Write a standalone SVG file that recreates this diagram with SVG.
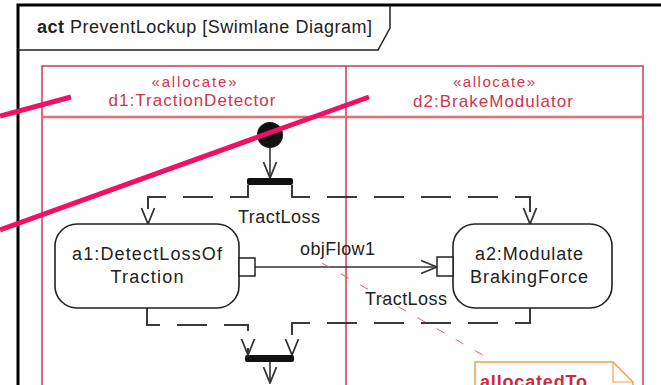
<svg xmlns="http://www.w3.org/2000/svg" width="661" height="385" viewBox="0 0 661 385">
<defs>
<style>
text{font-family:"Liberation Sans",Arial,sans-serif;font-size:18px;fill:#222}
.lane{font-size:17px;fill:#d0344c}
.st{font-size:15px;fill:#d0344c}
.node{fill:#fff;stroke:#222;stroke-width:1.6}
.pin{fill:#fff;stroke:#222;stroke-width:1.5}
.ctrl{fill:none;stroke:#3a3a3a;stroke-width:2;stroke-dasharray:30 17}
.flow{fill:none;stroke:#333;stroke-width:1.6}
.bar{fill:#111}
.callout{stroke:#ee1166;stroke-width:5;fill:none}
</style>
<marker id="arr" viewBox="0 0 18 16" refX="17" refY="8" markerWidth="18" markerHeight="16" markerUnits="userSpaceOnUse" orient="auto">
<path d="M1,1.5 L17,8 L1,14.5" fill="none" stroke="#333" stroke-width="1.8"/>
</marker>
</defs>
<rect width="661" height="385" fill="#fff"/>
<g id="frame">
<path d="M18,385 V5 H661" fill="none" stroke="#000" stroke-width="3"/>
<path d="M18,50 H378 L390,28 V5" fill="none" stroke="#222" stroke-width="1.5"/>
<text x="37" y="33" textLength="335" lengthAdjust="spacing"><tspan font-weight="bold">act</tspan> PreventLockup [Swimlane Diagram]</text>
</g>
<g id="lanes">
<path d="M42,385 V66 H643 V385 M346,66 V385" fill="none" stroke="#d23a4e" stroke-width="1.5"/>
<line x1="42" y1="117" x2="643" y2="117" stroke="#f26a6a" stroke-width="2.5"/>
</g>
<g id="lane1">
<text class="st" x="194" y="87" text-anchor="middle" textLength="85" lengthAdjust="spacing">«allocate»</text>
<text class="lane" x="192" y="106" text-anchor="middle" textLength="167" lengthAdjust="spacing">d1:TractionDetector</text>
</g>
<g id="lane2">
<text class="st" x="494" y="87" text-anchor="middle" textLength="82" lengthAdjust="spacing">«allocate»</text>
<text class="lane" x="493" y="107" text-anchor="middle" textLength="160" lengthAdjust="spacing">d2:BrakeModulator</text>
</g>
<g id="connectors">
<path class="flow" d="M270,148 V178" marker-end="url(#arr)"/>
<path class="ctrl" d="M248,185 V197 H148 V224" marker-end="url(#arr)"/>
<path class="ctrl" d="M292,185 V197 H530 V224" marker-end="url(#arr)"/>
<path class="flow" d="M255,267 H437" marker-end="url(#arr)"/>
<path class="ctrl" d="M147,308 V325 H248 V355" marker-end="url(#arr)"/>
<path class="ctrl" d="M530,308 V323 H292 V355" marker-end="url(#arr)"/>
<path class="flow" d="M270,362 V383" marker-end="url(#arr)"/>
<line x1="322" y1="263" x2="488" y2="358" stroke="#e06464" stroke-width="1" stroke-dasharray="9 13"/>
<text x="238" y="223" textLength="82" lengthAdjust="spacing">TractLoss</text>
<text x="300" y="255" textLength="75" lengthAdjust="spacing">objFlow1</text>
<text x="365" y="305" textLength="82" lengthAdjust="spacing">TractLoss</text>
</g>
<g id="initial">
<circle cx="270" cy="135" r="13" fill="#111"/>
</g>
<g id="fork">
<rect class="bar" x="247" y="178" width="46" height="7" rx="2"/>
</g>
<g id="join">
<rect class="bar" x="245" y="355" width="49" height="7" rx="2"/>
</g>
<g id="a1">
<rect class="node" x="55" y="224" width="184" height="84" rx="22"/>
<rect class="pin" x="239" y="258" width="16" height="18"/>
<text x="147" y="260" text-anchor="middle" textLength="150" lengthAdjust="spacing">a1:DetectLossOf</text>
<text x="147" y="283" text-anchor="middle" textLength="73" lengthAdjust="spacing">Traction</text>
</g>
<g id="a2">
<rect class="node" x="453" y="224" width="159" height="84" rx="22"/>
<rect class="pin" x="437" y="257" width="16" height="19"/>
<text x="529" y="260" text-anchor="middle" textLength="108" lengthAdjust="spacing">a2:Modulate</text>
<text x="529" y="283" text-anchor="middle" textLength="118" lengthAdjust="spacing">BrakingForce</text>
</g>
<g id="note">
<path d="M475,395 V362 H613 L633,382 V395" fill="#fff" stroke="#f0a050" stroke-width="1.5"/>
<path d="M613,362 V382 H633" fill="none" stroke="#f0a050" stroke-width="1.2"/>
<text x="480" y="388" font-weight="bold" style="fill:#d0283c" textLength="107" lengthAdjust="spacing">allocatedTo</text>
</g>
<g id="callouts">
<line class="callout" x1="0" y1="116" x2="71" y2="97"/>
<line class="callout" x1="0" y1="230" x2="369" y2="97"/>
</g>
</svg>
